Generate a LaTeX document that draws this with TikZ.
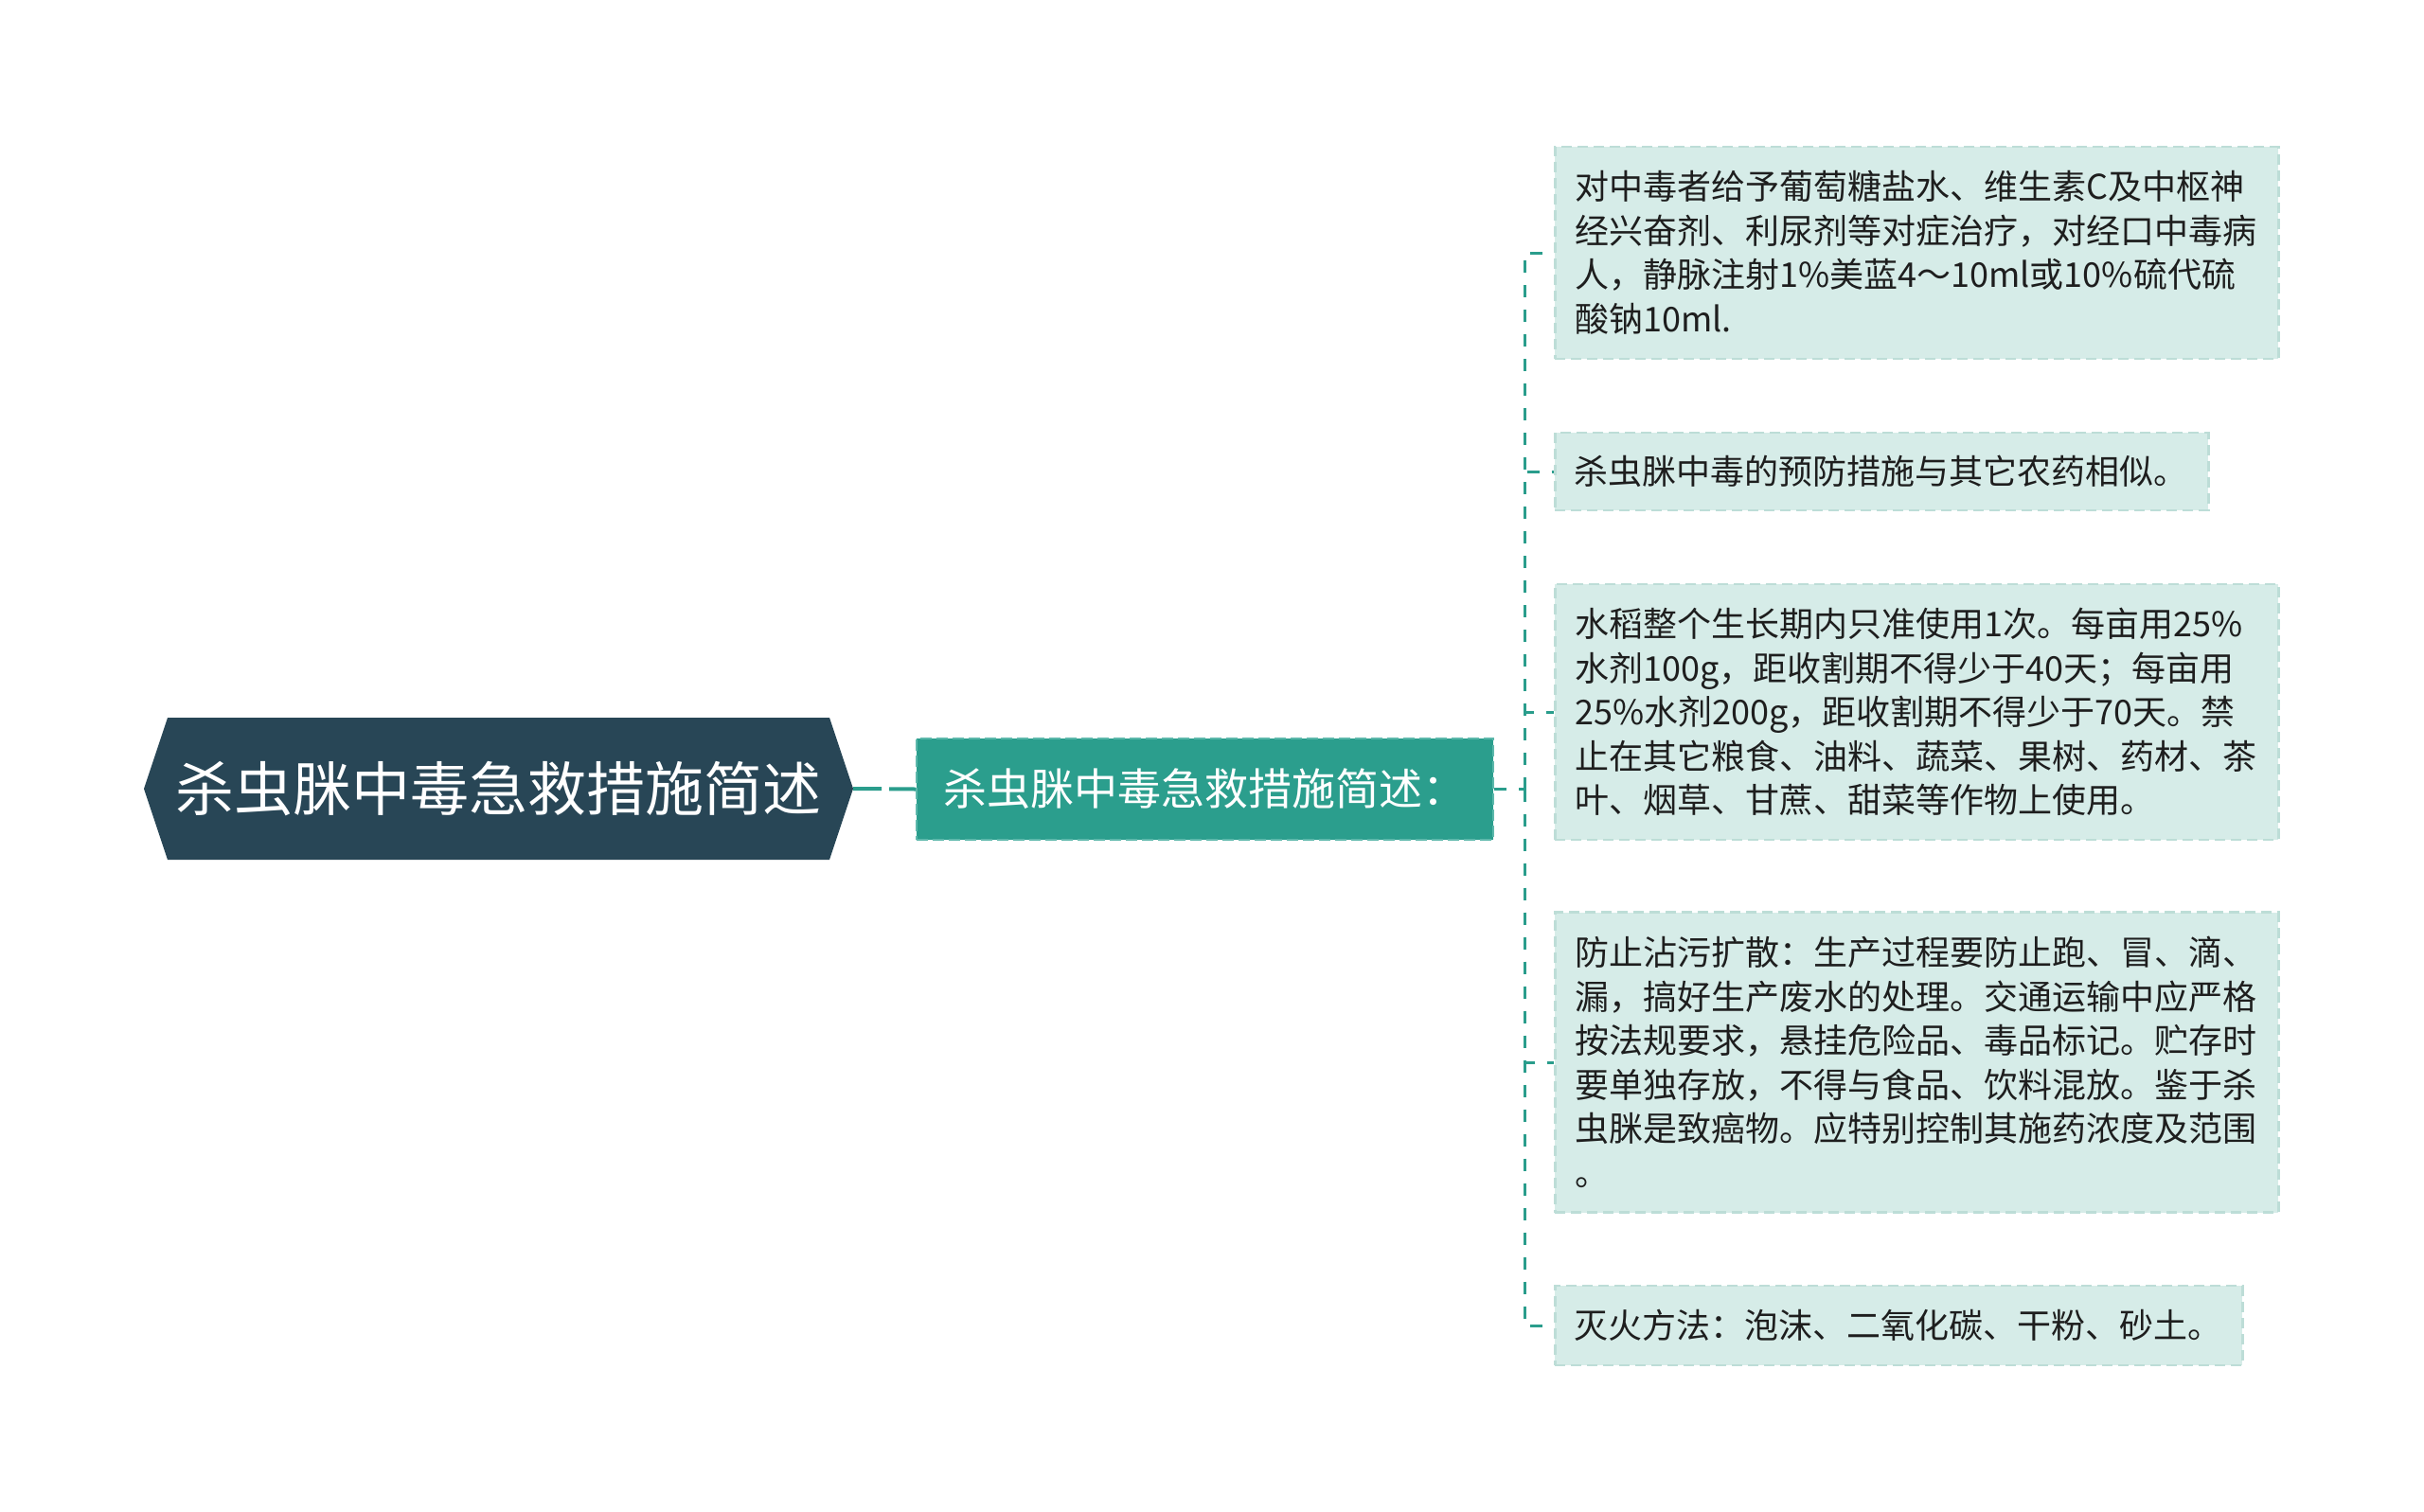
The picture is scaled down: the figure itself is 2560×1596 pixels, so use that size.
\documentclass[tikz,border=0pt]{standalone}
\usepackage{fontspec}
\newfontfamily\cjk{Noto Sans CJK SC}
\definecolor{rootfill}{HTML}{284656}
\definecolor{midfill}{HTML}{2B9E8D}
\definecolor{midborder}{HTML}{5DB8AB}
\definecolor{linkcol}{HTML}{2A9D8C}
\definecolor{boxfill}{HTML}{D6ECE8}
\definecolor{boxborder}{HTML}{BDDDD7}
\definecolor{txt}{HTML}{1E1E1E}
\tikzset{
  link/.style={draw=linkcol, line width=3pt, dash pattern=on 13pt off 13pt},
  rootlink/.style={draw=linkcol, line width=4pt, dash pattern=on 30pt off 8pt},
  midbox/.style={fill=midfill, draw=midborder, line width=2pt, dash pattern=on 12pt off 5pt,
    minimum width=609pt, minimum height=107pt, inner sep=0pt, text=white,
    font=\cjk\fontsize{46}{56}\selectfont},
  leafbox/.style={fill=boxfill, draw=boxborder, line width=2.5pt, dash pattern=on 11pt off 6pt,
    anchor=west, inner xsep=21pt, inner ysep=0pt, align=left, text=txt,
    font=\cjk\fontsize{36}{46.5}\selectfont},
}
\begin{document}
\begin{tikzpicture}[x=1pt,y=-1pt]
\useasboundingbox (0,0) rectangle (2560,1596);
\fill[white] (0,0) rectangle (2560,1596);
% root hexagon
\fill[rootfill] (152,833) -- (177,758) -- (876,758) -- (901,833) -- (876,908) -- (177,908) -- cycle;
\node[minimum width=749pt, minimum height=150pt, inner sep=0pt, text=white,
  font=\cjk\fontsize{62}{74}\selectfont] (root) at (526.5,833) {杀虫脒中毒急救措施简述};
% middle node
\node[midbox] (mid) at (1272.5,833.5) {杀虫脒中毒急救措施简述：};
% leaves
\node[leafbox, text width=722pt, minimum height=224pt] (l1) at (1641,267)
 {对中毒者给予葡萄糖盐水、维生素C及中枢神\\经兴奋剂、利尿剂等对症治疗，对经口中毒病\\人，静脉注射1\%美蓝4～10ml或10\%硫代硫\\酸钠10ml.};
\node[leafbox, text width=650pt, inner xsep=20pt, minimum height=82pt] (l2) at (1641,498)
 {杀虫脒中毒的预防措施与其它农药相似。};
\node[leafbox, text width=722pt, minimum height=270pt] (l3) at (1641,752)
 {水稻整个生长期内只准使用1次。每亩用25\%\\水剂100g，距收割期不得少于40天；每亩用\\25\%水剂200g，距收割期不得少于70天。禁\\止在其它粮食、油料、蔬菜、果树、药材、茶\\叶、烟草、甘蔗、甜菜等作物上使用。};
\node[leafbox, text width=722pt, minimum height=317pt] (l4) at (1641,1122)
 {防止沾污扩散：生产过程要防止跑、冒、滴、\\漏，搞好生产废水的处理。交通运输中应严格\\按法规要求，悬挂危险品、毒品标记。贮存时\\要单独存放，不得与食品、饮料混放。鉴于杀\\虫脒是致癌物。应特别控制其施药浓度及范围\\。};
\node[leafbox, text width=686pt, inner xsep=20pt, minimum height=84pt] (l5) at (1641,1400)
 {灭火方法：泡沫、二氧化碳、干粉、砂土。};
% connectors
\draw[rootlink] (root.east) -- (mid.west);
\coordinate (spine) at (1610,833.5);
\draw[link] (mid.east) -- (spine);
\foreach \n in {l1,l2,l3,l4,l5} {
  \draw[link] (spine) |- (\n.west);
}
\end{tikzpicture}
\end{document}
